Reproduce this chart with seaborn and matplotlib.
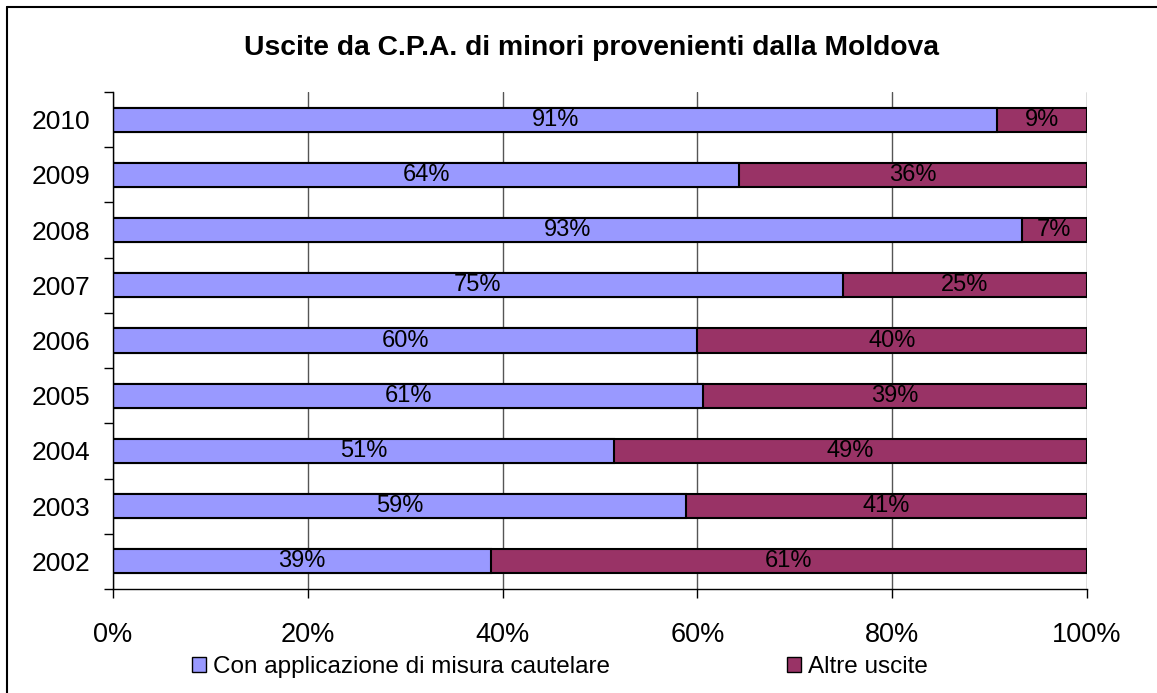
import numpy as np
import pandas as pd
import matplotlib.pyplot as plt
import seaborn as sns
from matplotlib.lines import Line2D
from matplotlib.patches import Patch

sns.set_style("white")
plt.rcParams['font.family'] = ['Liberation Sans', 'DejaVu Sans']
plt.rcParams['text.color'] = 'black'
plt.rcParams['xtick.color'] = 'black'
plt.rcParams['ytick.color'] = 'black'

# data (percent), top to bottom
anni = ["2010", "2009", "2008", "2007", "2006", "2005", "2004", "2003", "2002"]
con_misura = [90.8, 64.3, 93.3, 74.9, 60.0, 60.6, 51.4, 58.8, 38.8]
altre_uscite = [9.2, 35.7, 6.7, 25.1, 40.0, 39.4, 48.6, 41.2, 61.2]

blu = "#9999FF"
bordeaux = "#993366"

df = pd.DataFrame({"Anno": anni, "Con": con_misura, "Altre": altre_uscite})
df["Totale"] = df["Con"] + df["Altre"]

fig = plt.figure(figsize=(11.57, 6.93), dpi=100)
ax = fig.add_axes([113/1157, 1-589/693, 974/1157, 497/693])

# stacked bars: full bar first, then first series on top
sns.barplot(data=df, x="Totale", y="Anno", orient="h", color=bordeaux,
            edgecolor="black", linewidth=1.5, width=0.435, ax=ax, saturation=1)
sns.barplot(data=df, x="Con", y="Anno", orient="h", color=blu,
            edgecolor="black", linewidth=1.5, width=0.435, ax=ax, saturation=1)

# value labels
lab_con = [f"{round(v)}%" for v in df["Con"]]
lab_altre = [f"{round(v)}%" for v in df["Altre"]]
ax.bar_label(ax.containers[1], labels=lab_con, label_type="center", fontsize=17, color="black")
for bar, lab, c in zip(ax.containers[0], lab_altre, df["Con"]):
    y = bar.get_y() + bar.get_height()/2
    ax.text((c + 100)/2, y, lab, ha="center", va="center", fontsize=17, color="black")

ax.set_xlim(0, 100)
ax.set_ylim(len(anni) - 0.5, -0.5)
ax.set_xticks(np.arange(0, 101, 20))
ax.set_xticklabels([f"{v}%" for v in range(0, 101, 20)], fontsize=19.5)
ax.tick_params(axis="y", labelsize=19, length=0, pad=16.5)
ax.set_yticks(np.arange(-0.5, len(anni), 1), minor=True)
ax.tick_params(axis="y", which="minor", left=True, length=6.5, width=1, color="black", direction="out")
ax.tick_params(axis="x", bottom=True, length=6.5, width=1, color="black", direction="out", pad=17)
ax.set_xlabel("")
ax.set_ylabel("")

ax.grid(axis="x", color="#555555", linewidth=1)
ax.set_axisbelow(True)
for s in ["top", "right"]:
    ax.spines[s].set_visible(False)
for s in ["left", "bottom"]:
    ax.spines[s].set_color("black")
    ax.spines[s].set_linewidth(1)

fig.text(591/1157, 1-48/693, "Uscite da C.P.A. di minori provenienti dalla Moldova",
         ha="center", va="center", fontsize=20.3, fontweight="bold")

handles = [Patch(facecolor=blu, edgecolor="black", linewidth=1),
           Patch(facecolor=bordeaux, edgecolor="black", linewidth=1)]
fig.legend(handles, ["Con applicazione di misura cautelare", "Altre uscite"],
           loc="center", bbox_to_anchor=(560/1157, 1-667/693), ncol=2, frameon=False,
           fontsize=17.5, handlelength=0.55, handleheight=0.55, handletextpad=0.3,
           columnspacing=7.3)

# chart frame (only top and left visible in the crop)
fig.add_artist(Line2D([7/1157, 7/1157], [0, 1-7/693], color="black", linewidth=1.5,
                      transform=fig.transFigure))
fig.add_artist(Line2D([7/1157, 1], [1-7/693, 1-7/693], color="black", linewidth=1.5,
                      transform=fig.transFigure))

fig.savefig("out.png", dpi=100)
